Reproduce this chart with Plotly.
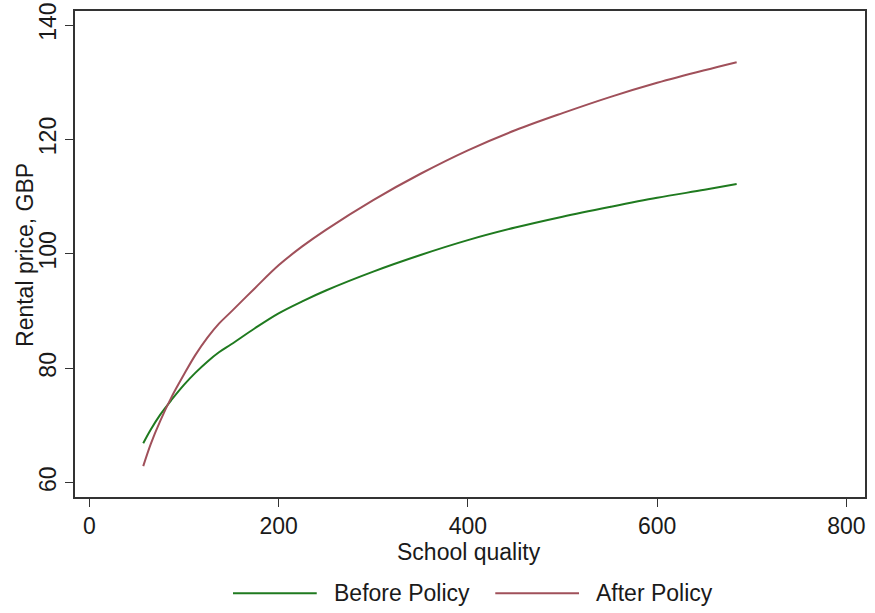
import plotly.graph_objects as go

school_quality = [57, 65, 75, 87, 100, 112, 125, 137, 150, 175, 200, 225, 250, 300, 350, 400, 450, 500, 550, 600, 650, 684]
before_policy = [66.9, 69.3, 71.9, 74.5, 77.1, 79.2, 81.2, 82.8, 84.2, 87.0, 89.6, 91.7, 93.6, 96.9, 99.8, 102.4, 104.6, 106.5, 108.2, 109.8, 111.2, 112.2]
after_policy = [62.9, 66.8, 70.8, 75.0, 78.9, 82.3, 85.4, 87.8, 89.9, 94.0, 98.0, 101.3, 104.2, 109.4, 114.0, 118.1, 121.6, 124.6, 127.4, 129.9, 132.1, 133.5]
x_ticks = [0, 200, 400, 600, 800]
y_ticks = [60, 80, 100, 120, 140]
series_names = ["Before Policy", "After Policy"]
series_colors = ["#1f7a1f", "#a0505a"]
x_title = "School quality"
y_title = "Rental price, GBP"

FONT = "Liberation Sans, Arial, sans-serif"
TXT = "#1a1a1a"
FS = 23

fig = go.Figure()
fig.add_trace(go.Scatter(x=school_quality, y=before_policy, mode="lines", line_shape="spline",
                         name=series_names[0], line=dict(color=series_colors[0], width=2)))
fig.add_trace(go.Scatter(x=school_quality, y=after_policy, mode="lines", line_shape="spline",
                         name=series_names[1], line=dict(color=series_colors[1], width=2)))

# custom legend (wide line samples like the original)
leg_y = -0.198
legend_items = [(0.200, 0.306, 0.325), (0.532, 0.638, 0.657)]
for (x0, x1, xt), name, col in zip(legend_items, series_names, series_colors):
    fig.add_shape(type="line", xref="paper", yref="paper", x0=x0, x1=x1, y0=leg_y, y1=leg_y,
                  line=dict(color=col, width=2))
    fig.add_annotation(xref="paper", yref="paper", x=xt, y=leg_y, text=name, showarrow=False,
                       xanchor="left", yanchor="middle", font=dict(family=FONT, size=FS, color=TXT))

# axis titles
fig.add_annotation(xref="paper", yref="paper", x=0.4987, y=-0.113, text=x_title, showarrow=False,
                   xanchor="center", yanchor="middle", font=dict(family=FONT, size=FS, color=TXT))
fig.add_annotation(xref="paper", yref="paper", x=-0.0633, y=0.498, text=y_title, showarrow=False,
                   textangle=-90, xanchor="center", yanchor="middle",
                   font=dict(family=FONT, size=FS, color=TXT))

axis_common = dict(showgrid=False, zeroline=False, showline=True, mirror=True,
                   linecolor="#333333", linewidth=1.5, ticks="outside", ticklen=8,
                   tickwidth=1.3, tickcolor="#333333", automargin=False,
                   ticklabeloverflow="allow",
                   tickfont=dict(family=FONT, size=FS, color=TXT))

fig.update_layout(
    width=875, height=613,
    margin=dict(l=75, r=10, t=11, b=116),
    paper_bgcolor="white", plot_bgcolor="white",
    showlegend=False,
    font=dict(family=FONT, size=FS, color=TXT),
    xaxis=dict(range=[-15.1, 819.6], tickvals=x_ticks, ticklabelstandoff=0, **axis_common),
    yaxis=dict(range=[57.5, 142.45], tickvals=y_ticks, tickangle=-90, **axis_common),
)

fig.write_html("out.html", config={"displayModeBar": False},
               post_script="document.body.style.margin='0px';")
